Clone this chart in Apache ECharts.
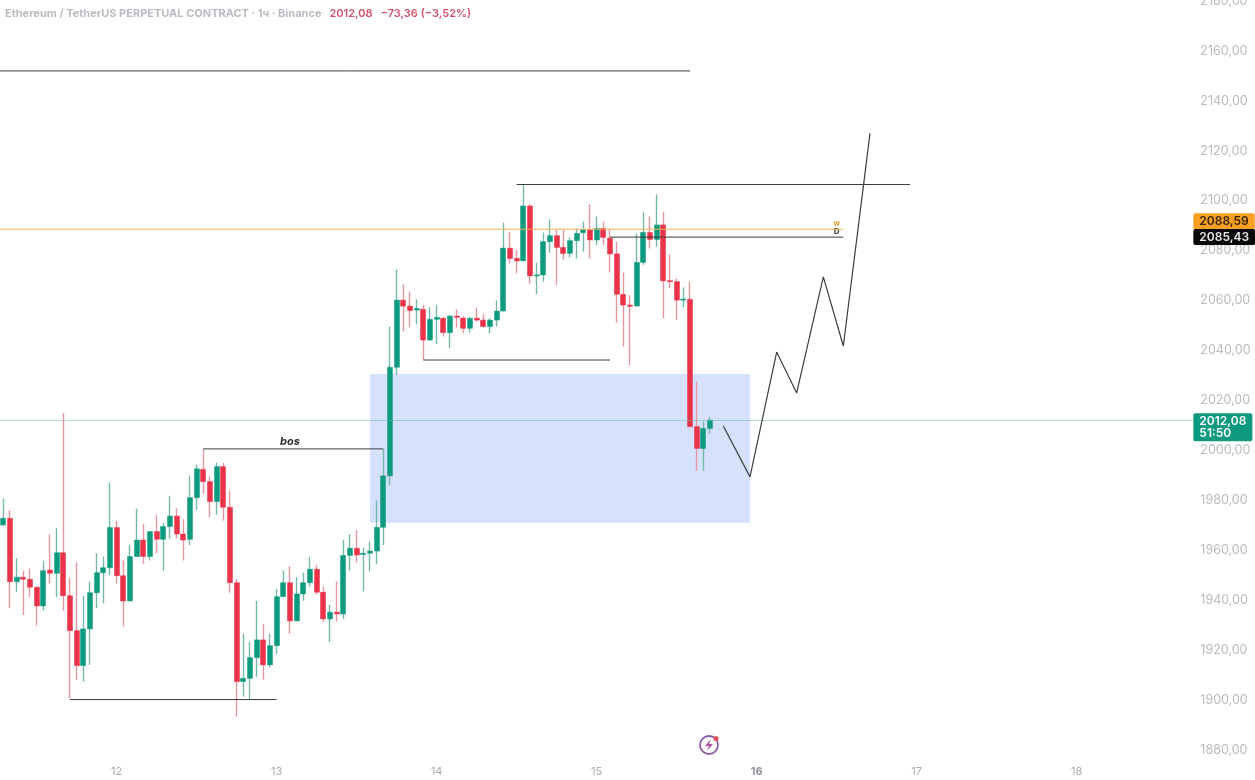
<!DOCTYPE html>
<html>
<head>
<meta charset="utf-8">
<style>html,body{margin:0;padding:0;background:#fff}#chart{width:1255px;height:780px}</style>
<script src="https://cdn.jsdelivr.net/npm/echarts@6/dist/echarts.min.js"></script>
</head>
<body>
<div id="chart"></div>
<script>
// hourly candles, first one sits at category 1 (category 0 is off screen to the left)
var opens = [1970.1,1972.8,1947.4,1949.2,1948.4,1945.2,1937.7,1952.1,1950.8,1959,1941.8,1927.8,1913.8,1928.5,1943,1951,1953,1969.1,1949.8,1939.7,1957.5,1964.1,1957.5,1967.5,1964.4,1969.5,1973.7,1966.5,1964.4,1981.1,
  1992.4,1987.5,1979.5,1993.5,1977.2,1947,1907.4,1908.7,1917,1924.1,1914.1,1921.8,1941.4,1947,1931.7,1942.5,1947,1952.4,1943.2,1932.5,1935.2,1934.5,1957.9,1960.8,1958.3,1958.8,1959.7,1969.2,1989.8,2033.3,
  2060.2,2057.8,2056.2,2056.5,2044.2,2052.5,2052.9,2047.2,2053.8,2053,2048.9,2052.9,2052.2,2049.6,2052.2,2055.8,2081,2076.9,2075.9,2097.9,2069.9,2070.3,2083.6,2086,2081.3,2078.9,2084,2087.2,2088.3,2084.3,
  2088.9,2085,2078.7,2062.5,2058.2,2057.8,2075.3,2087.3,2084.5,2090.3,2068,2067.6,2060.2,2060.5,2009.5,2000.8,2008.8];
var closes = [1972.8,1947.4,1949.2,1948.4,1945.2,1937.7,1951.8,1950.8,1959,1941.8,1927.8,1913.8,1928.5,1943,1951,1953,1969.1,1949.8,1939.7,1957.5,1964.1,1957.5,1967.5,1964.4,1969.5,1973.7,1966.5,1964.1,1981.1,1992.6,
  1987.5,1979.5,1993.5,1977.2,1947,1907.4,1908.7,1917,1924.1,1914.1,1921.8,1941.4,1947,1931.7,1942.5,1947,1952.4,1943.2,1932.5,1935.2,1934.5,1957.9,1960.8,1958.1,1958.8,1959.7,1969.2,1989.8,2033.3,2060.2,
  2057.8,2056,2056.8,2044.2,2052.5,2053.3,2047.2,2053.8,2053.3,2048.9,2052.9,2052.2,2049.6,2052.2,2055.8,2081,2076.9,2075.9,2097.9,2069.9,2070.3,2083.6,2086,2081.3,2078.9,2084,2086.9,2088.3,2084.3,2088.9,
  2085.3,2078.7,2062.5,2058.2,2057.7,2075.3,2087.3,2084.5,2090.3,2067.9,2067.6,2060.2,2060.6,2009.5,2000.8,2008.8,2012.08];
var lows = [1970,1936.8,1943.4,1934.1,1941.4,1929.8,1935.8,1946.8,1941.2,1935.8,1900.7,1908,1907.4,1914.1,1936.8,1938.8,1950.1,1946.8,1929.4,1939.7,1957.5,1954.5,1955.9,1958.8,1951.8,1964.8,1964.8,1955.9,1962.1,1976.1,
  1982.6,1973.2,1974.2,1971.9,1943,1893.4,1901.4,1900.3,1909.4,1908.1,1913.1,1918.5,1941.4,1926.5,1931.7,1939.8,1945.5,1942.1,1931.4,1923.2,1931.4,1932.5,1951.9,1955.1,1943.5,1951.5,1954.5,1962.1,1986.2,2030.2,
  2047.6,2049.3,2050.6,2036.2,2044,2042.6,2045.6,2040.9,2049.3,2046.9,2047.2,2051.6,2049.3,2046.9,2049.6,2055.8,2074.9,2070.9,2075.9,2066.6,2062.6,2067.6,2079.2,2066.2,2076.3,2077.3,2076.9,2079.6,2076.9,2082.3,
  2082.3,2071.2,2051.2,2041.6,2034.2,2057.8,2074.3,2080.9,2081.6,2052.9,2064.9,2052.2,2057.3,2009.5,1991.8,1991.8,2006.8];
var highs = [1980.8,1976.1,1956.8,1951.8,1952.6,1945.2,1955.7,1966.4,1968.8,2014.9,1949,1955.2,1941.7,1947.4,1958.8,1957.5,1987.1,1971.9,1955.9,1962.1,1976.7,1970.5,1967.5,1974.1,1970.8,1981.8,1976.8,1972.4,1989.8,1994.2,
  2000.5,1989.5,1995.1,1994.9,1983.9,1948.4,1926.5,1923.4,1939.8,1930.4,1926.5,1944.4,1951.9,1953.7,1949.2,1951,1957.5,1954.1,1945.5,1938.1,1947.5,1964.1,1966.4,1968.1,1961,1963.5,1979.9,2000.5,2049.6,2072.5,
  2066.6,2063.6,2060.5,2058.2,2057.3,2058.2,2053.5,2054.2,2056.5,2053.8,2053.5,2057.2,2054.6,2052.9,2060,2091.2,2087.6,2080.3,2106.3,2098.7,2075.2,2087.3,2092.5,2088.3,2088.3,2085.3,2088.9,2091.6,2098.7,2093.6,
  2091.6,2088.5,2083.6,2071.2,2062.2,2086.9,2095.6,2093.6,2102.6,2095.6,2078.5,2068.9,2065.3,2067.6,2027.5,2011.5,2013.5];

var yTickMin = 1880, yTickMax = 2180, yTickStep = 20;
var dayLabels = {18:'12', 42:'13', 66:'14', 90:'15', 114:'16', 138:'17', 162:'18'};
var categories = [];
for (var c = 0; c < 180; c++) categories.push(dayLabels[c] || '');

// drawings on the chart: [category, price]
var topLine = [[0,2152],[104,2152]];
var highLine = [[78,2106.5],[137,2106.5]];
var weeklyLine = [[0,2088.59],[127,2088.59]];
var dailyLine = [[92,2085.43],[127,2085.43]];
var midLine = [[64,2036.2],[92,2036.2]];
var bosLine = [[31,2000.6],[58,2000.6]];
var lowLine = [[11,1900.2],[42,1900.2]];
var forecast = [[109,2009.8],[113,1989.4],[117,2039.4],[120,2023],[124,2069.5],[127,2041.8],[131,2127]];
var zone = [[56,2030.6],[113,1971]];

var candleData = opens.map(function(o, i){ return [i + 1, o, closes[i], lows[i], highs[i]]; });
var bodyData = opens.map(function(o, i){
  return [i + 1, o, closes[i], Math.min(o, closes[i]), Math.max(o, closes[i])];
});

function drawing(points, color, extra){
  var s = {
    type: 'line', data: points, showSymbol: false, silent: true, z: 5,
    animation: false,
    lineStyle: {color: color || '#3c3c3c', width: 1}
  };
  for (var k in extra) s[k] = extra[k];
  return s;
}
function note(coord, text, style){
  return {
    silent: true, animation: false, symbol: 'circle', symbolSize: 0,
    data: [{coord: coord, label: {
      show: true, position: 'top', distance: 2, formatter: text,
      color: style.color, fontSize: style.size, fontWeight: 'bold',
      fontStyle: style.italic ? 'italic' : 'normal', fontFamily: 'Inter'
    }}]
  };
}
function priceTag(price, text, bg, fg, offsetY, line){
  return {
    yAxis: price,
    lineStyle: line || {width: 0, color: 'transparent'},
    label: {
      show: true, position: 'end', distance: 0, formatter: text, color: fg,
      backgroundColor: bg, padding: [2, 6, 2, 6], borderRadius: 2,
      fontSize: 12, lineHeight: 12, fontWeight: 600, fontFamily: 'Inter',
      offset: [0, offsetY]
    }
  };
}

var myChart = echarts.init(document.getElementById('chart'));

var option = {
  backgroundColor: '#fff',
  animation: false,
  title: {
    left: 0, top: 0,
    text: '{a|Ethereum / TetherUS PERPETUAL CONTRACT · 1ч · Binance} {b|2012,08} {b|−73,36 (−3,52%)}',
    textStyle: {
      rich: {
        a: {color: '#b9bbc1', fontSize: 11, fontFamily: 'Inter'},
        b: {color: '#d5506a', fontSize: 11, fontWeight: 600, fontFamily: 'Inter', padding: [0, 0, 0, 3]}
      }
    }
  },
  grid: {left: -6.667, width: 1200, top: 1, height: 749, outerBoundsMode: 'none'},
  xAxis: {
    type: 'category',
    data: categories,
    axisLine: {show: false},
    axisTick: {show: false},
    splitLine: {show: false},
    axisLabel: {
      interval: 0, margin: 16, hideOverlap: false,
      fontSize: 11, fontFamily: 'Inter', color: '#a9abb1',
      formatter: function(v){ return v === '16' ? '{b|16}' : v; },
      rich: {b: {fontSize: 11, fontWeight: 'bold', fontFamily: 'Inter', color: '#8f9197'}}
    }
  },
  yAxis: {
    type: 'value',
    position: 'right',
    min: yTickMin, max: yTickMax, interval: yTickStep,
    axisLine: {show: false},
    axisTick: {show: false},
    splitLine: {show: false},
    axisLabel: {
      margin: 7, fontSize: 12.5, fontFamily: 'Inter', color: '#b9bbc1', padding: [3, 0, 0, 0],
      formatter: function(v){ return v.toFixed(2).replace('.', ','); }
    }
  },
  series: [
    // the blue zone, under everything
    {
      type: 'line', data: [], silent: true, z: 1,
      markArea: {
        silent: true,
        itemStyle: {color: '#d6e1fd'},
        data: [[{coord: zone[0]}, {coord: zone[1]}]]
      }
    },
    // wicks are paler than bodies, so the bodies get their own series on top
    {
      type: 'candlestick', data: candleData, z: 2, barWidth: 1, silent: true,
      encode: {x: 0, y: [1, 2, 3, 4]},
      itemStyle: {color: '#74b8a8', color0: '#e9959f', borderColor: '#74b8a8', borderColor0: '#e9959f', borderWidth: 1.4}
    },
    {
      type: 'candlestick', data: bodyData, z: 3, barWidth: 5.5, silent: true,
      encode: {x: 0, y: [1, 2, 3, 4]},
      itemStyle: {color: '#0d9a7e', color0: '#ea3249', borderColor: '#0d9a7e', borderColor0: '#ea3249', borderWidth: 0.5}
    },
    drawing(topLine),
    drawing(highLine),
    drawing(weeklyLine, '#f3b251', {markPoint: note([126, 2088.59], 'w', {color: '#e5a63c', size: 8})}),
    drawing(dailyLine, '#3c3c3c', {markPoint: note([126, 2085.43], 'D', {color: '#333', size: 8})}),
    drawing(midLine),
    drawing(bosLine, '#3c3c3c', {markPoint: note([44, 2000.6], 'bos', {color: '#2b2b2b', size: 11, italic: true})}),
    drawing(lowLine),
    drawing(forecast, '#3c3c3c', {lineStyle: {color: '#3c3c3c', width: 1.2}}),
    // last price line and the tags on the price scale
    {
      type: 'line', data: [], silent: true, z: 4,
      markLine: {
        silent: true, animation: false, symbol: ['none', 'none'],
        data: [
          priceTag(2012.08, '2012,08\n51:50', '#0d9a7e', '#fff', 7, {color: '#5fb5a3', width: 1, type: 'dotted'}),
          priceTag(2088.59, '2088,59', '#f7a021', '#3a2500', -8),
          priceTag(2085.43, '2085,43', '#0a0a0a', '#e8e8e8', 0)
        ]
      }
    }
  ],
  graphic: [
    // little logo at the bottom
    {type: 'circle', shape: {cx: 709, cy: 745, r: 9}, style: {fill: '#fff', stroke: '#8a5aa6', lineWidth: 1.8}, silent: true},
    {type: 'polygon', shape: {points: [[711,739],[705,746],[709,746],[707,751],[713,744],[709,744]]}, style: {fill: '#b04fa0'}, silent: true},
    {type: 'circle', shape: {cx: 716, cy: 738.5, r: 2.6}, style: {fill: '#e0565e'}, silent: true}
  ]
};

myChart.setOption(option);
</script>
</body>
</html>
